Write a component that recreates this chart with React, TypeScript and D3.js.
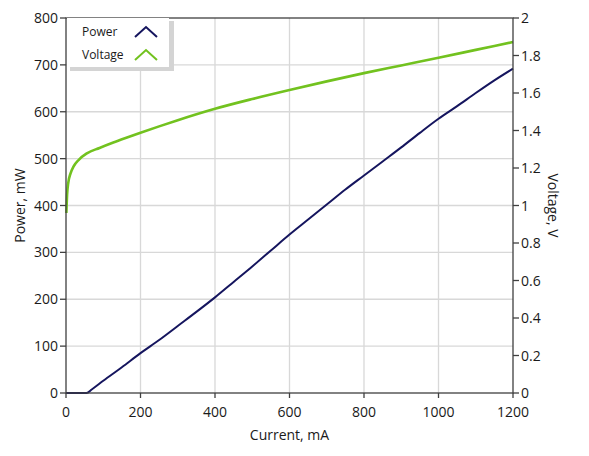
import { useEffect, useRef } from 'react';
import * as d3 from 'd3';

// current (mA) / power (mW)
const powerCurrent = [0, 20, 40, 55, 70, 100, 150, 200, 250, 300, 350, 400, 450, 500, 550, 600, 650, 700, 750, 800, 850, 900, 950, 1000, 1050, 1100, 1150, 1200];
const powerValues = [0, 0, 0, 0, 8, 26, 55, 85, 113, 143, 173, 204, 237, 270, 304, 338, 370, 402, 434, 464, 494, 524, 555, 585, 612, 640, 667, 692];

// current (mA) / voltage (V)
const voltageCurrent = [1, 3, 6, 12, 20, 35, 56, 90, 127, 160, 200, 250, 300, 400, 500, 600, 700, 800, 900, 1000, 1100, 1200];
const voltageValues = [0.96, 1.06, 1.12, 1.17, 1.207, 1.245, 1.278, 1.307, 1.336, 1.36, 1.388, 1.422, 1.455, 1.516, 1.568, 1.616, 1.662, 1.706, 1.747, 1.788, 1.83, 1.872];

const xTicks = [0, 200, 400, 600, 800, 1000, 1200];
const leftTicks = [0, 100, 200, 300, 400, 500, 600, 700, 800];
const rightTicks = [0, 0.2, 0.4, 0.6, 0.8, 1, 1.2, 1.4, 1.6, 1.8, 2];

const seriesNames = ['Power', 'Voltage'];
const seriesColors = ['#15155e', '#72c21f'];

const W = 589;
const H = 456;
const FONT = "'Open Sans', 'Noto Sans', sans-serif";

export default function App() {
  const svgRef = useRef<SVGSVGElement>(null);

  useEffect(() => {
    if (!svgRef.current) return;
    const svg = d3.select(svgRef.current);
    svg.selectAll('*').remove();

    const m = { left: 66, right: 513, top: 18, bottom: 393 };
    const x = d3.scaleLinear().domain([0, 1200]).range([m.left, m.right]);
    const yL = d3.scaleLinear().domain([0, 800]).range([m.bottom, m.top]);
    const yR = d3.scaleLinear().domain([0, 2]).range([m.bottom, m.top]);

    svg.append('rect').attr('width', W).attr('height', H).attr('fill', '#fff');

    // grid
    const grid = svg.append('g').attr('stroke', '#d8d8d8').attr('stroke-width', 1.3);
    xTicks.slice(1, -1).forEach(t => {
      grid.append('line').attr('x1', x(t)).attr('x2', x(t)).attr('y1', m.top).attr('y2', m.bottom);
    });
    leftTicks.slice(1, -1).forEach(t => {
      grid.append('line').attr('x1', m.left).attr('x2', m.right).attr('y1', yL(t)).attr('y2', yL(t));
    });

    // lines
    const line = d3.line<[number, number]>().x(d => d[0]).y(d => d[1]).curve(d3.curveMonotoneX);
    const powerPts = powerCurrent.map((c, i) => [x(c), yL(powerValues[i])] as [number, number]);
    const voltPts = voltageCurrent.map((c, i) => [x(c), yR(voltageValues[i])] as [number, number]);

    svg.append('path').attr('d', line(voltPts)).attr('fill', 'none')
      .attr('stroke', seriesColors[1]).attr('stroke-width', 2.6).attr('stroke-linejoin', 'round');
    svg.append('path').attr('d', line(powerPts)).attr('fill', 'none')
      .attr('stroke', seriesColors[0]).attr('stroke-width', 2).attr('stroke-linejoin', 'round');

    // frame
    svg.append('rect').attr('x', m.left).attr('y', m.top)
      .attr('width', m.right - m.left).attr('height', m.bottom - m.top)
      .attr('fill', 'none').attr('stroke', '#404040').attr('stroke-width', 1.3);

    const axisColor = '#404040';
    const textColor = '#1a1a1a';

    // bottom axis
    const xAxis = svg.append('g').attr('font-family', FONT).attr('font-size', 14).attr('fill', textColor);
    xTicks.forEach(t => {
      xAxis.append('line').attr('x1', x(t)).attr('x2', x(t)).attr('y1', m.bottom).attr('y2', m.bottom + 5)
        .attr('stroke', axisColor).attr('stroke-width', 1.3);
      xAxis.append('text').attr('x', x(t)).attr('y', m.bottom + 24).attr('text-anchor', 'middle').text(t);
    });

    // left axis
    const lAxis = svg.append('g').attr('font-family', FONT).attr('font-size', 14).attr('fill', textColor);
    leftTicks.forEach(t => {
      lAxis.append('line').attr('x1', m.left - 6).attr('x2', m.left).attr('y1', yL(t)).attr('y2', yL(t))
        .attr('stroke', axisColor).attr('stroke-width', 1.3);
      lAxis.append('text').attr('x', m.left - 8).attr('y', yL(t) + 5).attr('text-anchor', 'end').text(t);
    });

    // right axis
    const rAxis = svg.append('g').attr('font-family', FONT).attr('font-size', 14).attr('fill', textColor);
    rightTicks.forEach(t => {
      rAxis.append('line').attr('x1', m.right).attr('x2', m.right + 6).attr('y1', yR(t)).attr('y2', yR(t))
        .attr('stroke', axisColor).attr('stroke-width', 1.3);
      rAxis.append('text').attr('x', m.right + 8).attr('y', yR(t) + 5).attr('text-anchor', 'start')
        .text(d3.format('~g')(t));
    });

    // axis titles
    svg.append('text').attr('x', (m.left + m.right) / 2).attr('y', 440)
      .attr('text-anchor', 'middle').attr('font-family', FONT).attr('font-size', 14).attr('fill', textColor)
      .text('Current, mA');
    svg.append('text').attr('transform', `translate(25, ${(m.top + m.bottom) / 2}) rotate(-90)`)
      .attr('text-anchor', 'middle').attr('font-family', FONT).attr('font-size', 14).attr('fill', textColor)
      .text('Power, mW');
    svg.append('text').attr('transform', `translate(548, ${(m.top + m.bottom) / 2}) rotate(90)`)
      .attr('text-anchor', 'middle').attr('font-family', FONT).attr('font-size', 14).attr('fill', textColor)
      .text('Voltage, V');

    // legend
    const lg = svg.append('g').attr('transform', 'translate(67, 18)');
    lg.append('rect').attr('x', 3).attr('y', 3).attr('width', 104).attr('height', 50).attr('fill', '#d4d4d4');
    lg.append('rect').attr('x', 0).attr('y', 0).attr('width', 102).attr('height', 49).attr('fill', '#fff');
    seriesNames.forEach((name, i) => {
      const cy = 14 + i * 23;
      lg.append('text').attr('x', 15).attr('y', cy + 4).attr('font-family', FONT).attr('font-size', 12)
        .attr('fill', textColor).text(name);
      lg.append('path').attr('d', `M68,${cy + 5}L79,${cy - 5}L90,${cy + 5}`)
        .attr('fill', 'none').attr('stroke', seriesColors[i]).attr('stroke-width', 2);
    });
  }, []);

  return (
    <svg ref={svgRef} width={W} height={H}
      style={{ position: 'absolute', left: 0, top: 0, display: 'block' }} />
  );
}
